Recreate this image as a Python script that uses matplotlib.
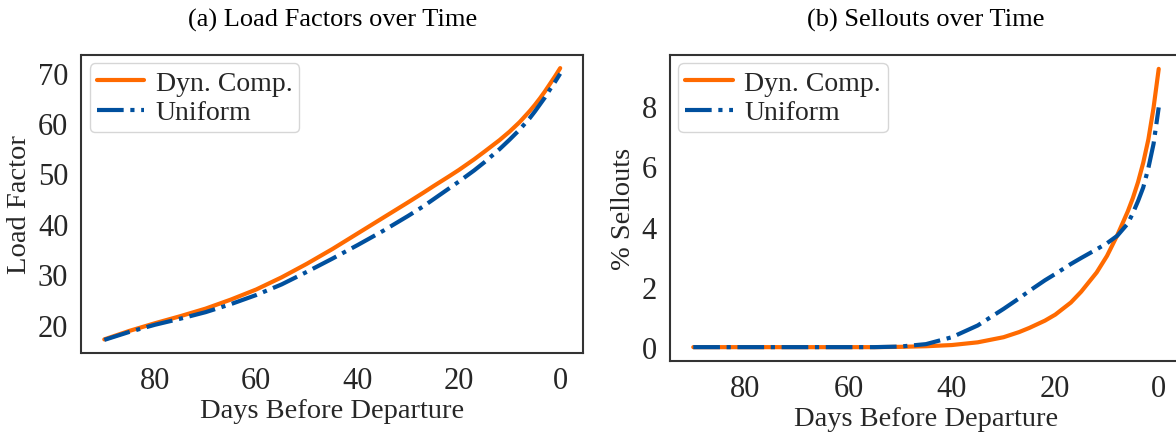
import matplotlib
matplotlib.use('Agg')
import matplotlib.pyplot as plt
import seaborn as sns

sns.set_style('white')
plt.rcParams['font.family'] = ['Liberation Serif', 'DejaVu Serif']

days = [90, 85, 80, 75, 70, 65, 60, 55, 50, 45, 40, 35, 30, 27, 25, 22, 20, 17, 15, 12, 10, 8, 6, 5, 4, 3, 2, 1, 0]

# (a) load factor
lf_dyn = [17.1, 18.8, 20.3, 21.7, 23.2, 25.0, 27.0, 29.4, 32.1, 35.0, 38.1, 41.2, 44.3, 46.2, 47.5, 49.4, 50.7, 52.8, 54.3, 56.6, 58.3, 60.2, 62.4, 63.6, 64.9, 66.3, 67.8, 69.3, 70.9]
lf_uni = [17.0, 18.6, 20.0, 21.2, 22.5, 24.1, 25.9, 28.0, 30.5, 33.1, 35.8, 38.6, 41.6, 43.5, 44.9, 47.0, 48.4, 50.6, 52.2, 54.8, 56.7, 58.7, 61.0, 62.3, 63.7, 65.1, 66.7, 68.2, 69.8]

# (b) sellouts
so_dyn = [0.0, 0.0, 0.0, 0.0, 0.0, 0.0, 0.0, 0.0, 0.01, 0.03, 0.07, 0.16, 0.33, 0.5, 0.64, 0.88, 1.08, 1.48, 1.84, 2.48, 3.03, 3.72, 4.5, 4.95, 5.48, 6.12, 6.9, 7.95, 9.24]
so_uni = [0.0, 0.0, 0.0, 0.0, 0.0, 0.0, 0.0, 0.0, 0.02, 0.1, 0.33, 0.72, 1.27, 1.62, 1.87, 2.22, 2.43, 2.76, 2.96, 3.25, 3.45, 3.7, 4.1, 4.45, 4.85, 5.3, 5.95, 6.75, 7.96]

labels = ['Dyn. Comp.', 'Uniform']
c_dyn = '#ff6a00'
c_uni = '#00509e'

fig = plt.figure(figsize=(11.76, 4.35), dpi=100)
ax1 = fig.add_axes([81.5/1176, 1-354/435, (583-81.5)/1176, (354-56)/435])
ax2 = fig.add_axes([670/1176, 1-362/435, (1182-670)/1176, (362-56)/435])

panels = [
    (ax1, lf_dyn, lf_uni, '(a) Load Factors over Time', 'Load Factor', [20, 30, 40, 50, 60, 70]),
    (ax2, so_dyn, so_uni, '(b) Sellouts over Time', '% Sellouts', [0, 2, 4, 6, 8]),
]
for ax, ydyn, yuni, title, ylab, yt in panels:
    ax.plot(days, ydyn, color=c_dyn, lw=3, label=labels[0])
    ax.plot(days, yuni, color=c_uni, lw=3, ls='-.', label=labels[1])
    ax.invert_xaxis()
    ax.set_xticks([80, 60, 40, 20, 0])
    ax.set_yticks(yt)
    ax.tick_params(labelsize=22, colors='#262626', pad=6)
    ax.set_xlabel('Days Before Departure', fontsize=20.5, color='#262626', labelpad=2)
    ax.set_ylabel(ylab, fontsize=20.5, color='#262626', labelpad=4)
    ax.set_title(title, fontsize=19, pad=21, color='black')
    for s in ax.spines.values():
        s.set_color('#333333')
        s.set_linewidth(1.5)
    ax.legend(loc='upper left', fontsize=20, handlelength=1.7, borderpad=0.25,
              labelspacing=0.15, handletextpad=0.42, borderaxespad=0.3)

ax1.set_xlim(94.5, -4.5)
ax1.set_ylim(14.4, 73.5)
ax2.set_xlim(94.5, -4.5)
ax2.set_ylim(-0.46, 9.7)

fig.savefig('out.png', dpi=100)
